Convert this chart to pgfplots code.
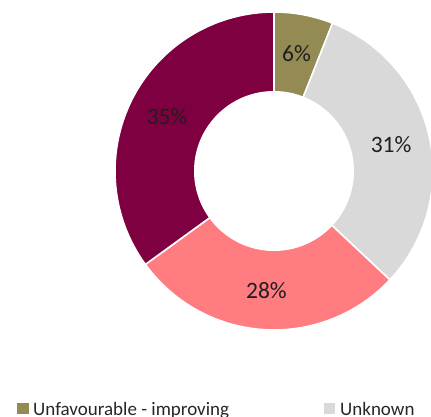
\documentclass[border=0pt]{standalone}
\usepackage{pgfplots}
\usepackage{pgfplotstable}
\pgfplotsset{compat=1.18}
\usepackage{fontspec}
\setmainfont{Carlito}
\definecolor{cOlive}{HTML}{948A54}
\definecolor{cGrey}{HTML}{D9D9D9}
\definecolor{cPink}{HTML}{FF7C80}
\definecolor{cMaroon}{HTML}{7F0040}
\tikzset{pielabel/.style={font=\fontsize{23.5}{28}\selectfont, text=black!88, inner sep=0pt}}
\pgfplotstableread{
label value color
Unfavourable-improving 6 cOlive
Unknown 31 cGrey
Other1 28 cPink
Other2 35 cMaroon
}\piedata
\begin{document}
\begin{tikzpicture}
\begin{axis}[scale only axis, width=431pt, height=416pt,
  xmin=0, xmax=431, ymin=0, ymax=416, hide axis, clip=true]
\pgfplotstablegetrowsof{\piedata}
\pgfmathtruncatemacro{\nrows}{\pgfplotsretval-1}
\def\cumul{0}
\pgfplotsforeachungrouped \i in {0,...,\nrows}{%
  \pgfplotstablegetelem{\i}{value}\of{\piedata}%
  \let\val\pgfplotsretval
  \pgfplotstablegetelem{\i}{color}\of{\piedata}%
  \let\col\pgfplotsretval
  \pgfmathsetmacro{\astart}{90-3.6*\cumul}%
  \pgfmathsetmacro{\aend}{90-3.6*(\cumul+\val)}%
  \pgfmathsetmacro{\amid}{(\astart+\aend)/2}%
  \pgfmathsetmacro{\cumul}{\cumul+\val}%
  \edef\temp{%
    \noexpand\filldraw[fill=\col, draw=white, line width=1.6pt, line join=round] (axis cs:274,245) -- ++(\astart:159pt) arc[start angle=\astart, end angle=\aend, radius=159pt] -- cycle;%
  }%
  \temp
}
\fill[white] (axis cs:274,245) circle[radius=80pt];
\def\cumul{0}
\pgfplotsforeachungrouped \i in {0,...,\nrows}{%
  \pgfplotstablegetelem{\i}{value}\of{\piedata}%
  \let\val\pgfplotsretval
  \pgfmathsetmacro{\astart}{90-3.6*\cumul}%
  \pgfmathsetmacro{\aend}{90-3.6*(\cumul+\val)}%
  \pgfmathsetmacro{\amid}{(\astart+\aend)/2}%
  \pgfmathsetmacro{\cumul}{\cumul+\val}%
  \edef\temp{%
    \noexpand\path (axis cs:274,245) ++(\amid:120pt) node[pielabel] {\val\noexpand\%};%
  }%
  \temp
}
% legend (cut off at bottom as in reference)
\fill[cOlive] (axis cs:17,2) rectangle (axis cs:29,13);
\node[anchor=base west, inner sep=0pt, font=\fontsize{19}{22}\selectfont, text=black!85] at (axis cs:33,1) {Unfavourable - improving};
\fill[cGrey] (axis cs:324,2) rectangle (axis cs:335,13);
\node[anchor=base west, inner sep=0pt, font=\fontsize{19}{22}\selectfont, text=black!85] at (axis cs:340,1) {Unknown};
\end{axis}
\pgfresetboundingbox
\useasboundingbox (current axis.south west) rectangle (current axis.north east);
\end{tikzpicture}
\end{document}
